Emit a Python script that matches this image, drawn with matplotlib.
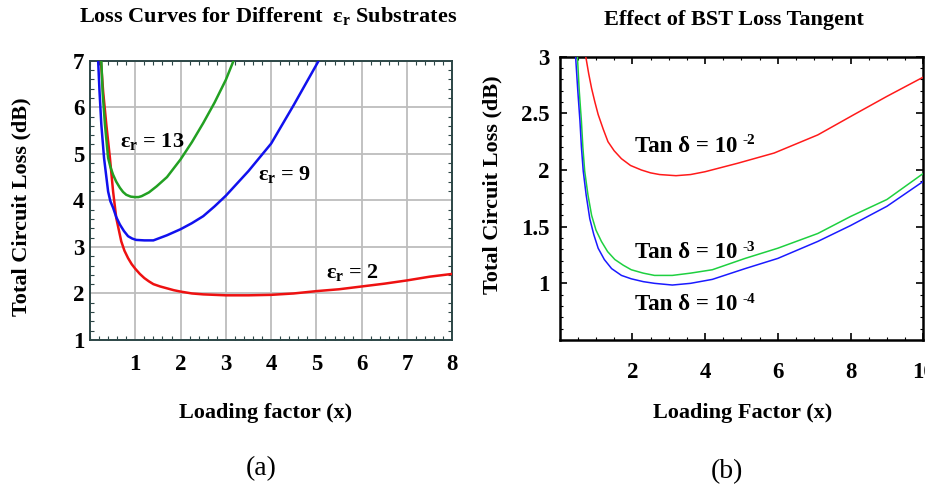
import matplotlib
matplotlib.use("Agg")
import matplotlib.pyplot as plt
from matplotlib.ticker import MultipleLocator

# ---------------- data: panel (a) ----------------
x_er2 = [0.24, 0.29, 0.36, 0.44, 0.51, 0.58, 0.69, 0.76, 0.84, 0.92, 1.0, 1.1, 1.2, 1.3,
         1.4, 1.55, 1.7, 1.85, 2.0, 2.25, 2.5, 3.0, 3.5, 4.0, 4.5, 5.0, 5.5, 6.0, 6.5,
         7.0, 7.5, 8.0]
y_er2 = [7.0, 6.34, 5.63, 4.91, 4.19, 3.62, 3.12, 2.92, 2.76, 2.63, 2.53, 2.42, 2.33, 2.26,
         2.2, 2.15, 2.11, 2.07, 2.04, 2.0, 1.98, 1.96, 1.96, 1.97, 2.0, 2.05, 2.09, 2.15,
         2.21, 2.28, 2.36, 2.42]
x_er9 = [0.18, 0.21, 0.25, 0.31, 0.40, 0.45, 0.51, 0.58, 0.66, 0.75, 0.84, 0.93, 1.02,
         1.2, 1.4, 1.7, 2.0, 2.25, 2.5, 2.75, 3.0, 3.5, 4.0, 4.5, 5.05]
y_er9 = [7.0, 6.34, 5.63, 4.91, 4.19, 3.98, 3.84, 3.64, 3.48, 3.34, 3.23, 3.18, 3.15,
         3.14, 3.14, 3.25, 3.38, 3.51, 3.66, 3.87, 4.1, 4.63, 5.22, 6.05, 7.0]
x_er13 = [0.25, 0.28, 0.33, 0.40, 0.45, 0.51, 0.58, 0.66, 0.73, 0.80, 0.90, 0.99, 1.07,
          1.14, 1.3, 1.47, 1.7, 2.0, 2.25, 2.5, 2.75, 3.0, 3.17]
y_er13 = [7.0, 6.3, 5.63, 4.91, 4.72, 4.55, 4.40, 4.27, 4.18, 4.12, 4.08, 4.07, 4.07,
          4.09, 4.17, 4.30, 4.5, 4.88, 5.25, 5.66, 6.1, 6.59, 7.0]
labels_a = ["13", "9", "2"]

# ---------------- data: panel (b) ----------------
x_tan2 = [0.72, 0.80, 0.88, 0.97, 1.06, 1.2, 1.33, 1.5, 1.7, 1.95, 2.25, 2.5, 2.75, 3.2,
          3.6, 4.0, 4.9, 5.9, 7.1, 8.1, 9.0, 10.0]
y_tan2 = [3.0, 2.85, 2.72, 2.60, 2.49, 2.36, 2.25, 2.17, 2.10, 2.04, 2.0, 1.975, 1.96,
          1.95, 1.96, 1.985, 2.06, 2.15, 2.31, 2.49, 2.65, 2.82]
x_tan3 = [0.49, 0.54, 0.6, 0.64, 0.69, 0.78, 0.88, 1.0, 1.15, 1.32, 1.52, 1.75, 1.97,
          2.3, 2.61, 3.1, 3.6, 4.2, 5.1, 6.0, 7.1, 8.0, 9.0, 10.0]
y_tan3 = [3.0, 2.7, 2.43, 2.2, 1.99, 1.78, 1.60, 1.47, 1.37, 1.28, 1.21, 1.16, 1.12,
          1.09, 1.07, 1.07, 1.09, 1.12, 1.22, 1.31, 1.44, 1.59, 1.74, 1.97]
x_tan4 = [0.44, 0.5, 0.56, 0.6, 0.65, 0.73, 0.83, 0.94, 1.06, 1.23, 1.43, 1.7, 1.97,
          2.3, 2.61, 3.1, 3.6, 4.2, 5.1, 6.0, 7.1, 8.0, 9.0, 10.0]
y_tan4 = [3.0, 2.7, 2.43, 2.2, 1.99, 1.78, 1.57, 1.43, 1.31, 1.21, 1.13, 1.07, 1.04,
          1.015, 1.0, 0.985, 1.0, 1.035, 1.13, 1.22, 1.37, 1.51, 1.68, 1.9]
labels_b = ["-2", "-3", "-4"]

plt.rcParams["font.family"] = ["Liberation Serif", "DejaVu Serif"]
plt.rcParams["mathtext.fontset"] = "custom"
plt.rcParams["mathtext.rm"] = "Liberation Serif:bold"
plt.rcParams["mathtext.bf"] = "Liberation Serif:bold"
plt.rcParams["mathtext.it"] = "Liberation Serif:bold"

W, H = 925, 494
fig = plt.figure(figsize=(W / 100, H / 100), dpi=100)


def ax_rect(l, t, r, b):
    return [l / W, 1 - b / H, (r - l) / W, (b - t) / H]


def ftxt(x, y, s, **kw):
    fig.text(x / W, 1 - y / H, s, **kw)


TICKFONT = dict(family="Liberation Serif", weight="bold", size=16.5)
LABSIZE = 16

# ---------------- panel (a) ----------------
axa = fig.add_axes(ax_rect(90, 60.7, 452.3, 340))
spine_a = "#2c4646"
axa.plot(x_er2, y_er2, color="#ee1111", lw=1.8, zorder=3)
axa.plot(x_er9, y_er9, color="#1111ee", lw=1.8, zorder=3)
axa.plot(x_er13, y_er13, color="#22a022", lw=1.8, zorder=3)
axa.set_xlim(0, 8)
axa.set_ylim(1, 7)
axa.xaxis.set_minor_locator(MultipleLocator(0.2))
axa.yaxis.set_minor_locator(MultipleLocator(0.2))
axa.set_xticks(range(1, 9))
axa.set_xticklabels([str(i) for i in range(1, 9)], **TICKFONT)
axa.set_yticks(range(1, 8))
axa.set_yticklabels([str(i) for i in range(1, 8)], **TICKFONT)
axa.grid(True, which="major", color="#bdbdbd", lw=1.3, zorder=0)
axa.tick_params(which="both", direction="in", top=True, right=True, color=spine_a)
axa.tick_params(which="major", length=0, width=1)
axa.tick_params(which="minor", length=3, width=0.8)
axa.tick_params(axis="x", which="major", pad=10)
axa.tick_params(axis="y", which="major", pad=4)
for s in axa.spines.values():
    s.set_color(spine_a)
    s.set_linewidth(1.4)

ann = dict(fontsize=16, fontweight="bold", va="center", ha="left")
axa.text(0.66, 5.27, r"$\mathbf{ε_r}$ = " + labels_a[0], **ann)
axa.text(3.72, 4.56, r"$\mathbf{ε_r}$ = " + labels_a[1], **ann)
axa.text(5.22, 2.46, r"$\mathbf{ε_r}$ = " + labels_a[2], **ann)

ftxt(268, 16, r"Loss Curves for Different  $\mathbf{ε_r}$ Substrates",
     fontsize=LABSIZE, fontweight="bold", ha="center", va="center")
ftxt(21, 207, "Total Circuit Loss (dB)", fontsize=LABSIZE, fontweight="bold",
     rotation=90, ha="center", va="center")
ftxt(266, 413, "Loading factor (x)", fontsize=LABSIZE, fontweight="bold",
     ha="center", va="center")
ftxt(261, 469, "(a)", fontsize=20, ha="center", va="center",
     family="Liberation Serif")

# ---------------- panel (b) ----------------
axb = fig.add_axes(ax_rect(559.6, 56.7, 923.3, 340))
axb.plot(x_tan2, y_tan2, color="#ff1a1a", lw=1.1, zorder=3)
axb.plot(x_tan3, y_tan3, color="#1ed040", lw=1.1, zorder=3)
axb.plot(x_tan4, y_tan4, color="#1a1aff", lw=1.1, zorder=3)
axb.set_xlim(0, 9.95)
axb.set_ylim(0.5, 3.0)
axb.set_xticks([2, 4, 6, 8, 10])
axb.set_xticklabels(["2", "4", "6", "8", "10"], **TICKFONT)
axb.set_yticks([1, 1.5, 2, 2.5, 3])
axb.set_yticklabels(["1", "1.5", "2", "2.5", "3"], **TICKFONT)
axb.xaxis.set_minor_locator(MultipleLocator(0.5))
axb.yaxis.set_minor_locator(MultipleLocator(0.1))
axb.tick_params(which="both", direction="in", top=True, right=True, color="black")
axb.tick_params(which="major", length=5, width=1.2)
axb.tick_params(which="minor", length=2.5, width=0.8)
axb.tick_params(axis="x", which="major", pad=16)
axb.tick_params(axis="y", which="major", pad=7)
for s in axb.spines.values():
    s.set_color("black")
    s.set_linewidth(1.8)

tan_pos = [(2.07, 2.21), (2.07, 1.27), (2.07, 0.81)]
for (tx, ty), sup in zip(tan_pos, labels_b):
    t = axb.text(tx, ty, "Tan δ = 10", fontsize=16.5, fontweight="bold",
                 ha="left", va="center")
    axb.annotate(sup, xy=(1, 1), xycoords=t, xytext=(4, 1),
                 textcoords="offset points", fontsize=11, fontweight="bold",
                 ha="left", va="top")

ftxt(734, 20, "Effect of BST Loss Tangent", fontsize=LABSIZE, fontweight="bold",
     ha="center", va="center")
ftxt(492, 185, "Total Circuit Loss (dB)", fontsize=LABSIZE, fontweight="bold",
     rotation=90, ha="center", va="center")
ftxt(743, 413, "Loading Factor (x)", fontsize=LABSIZE, fontweight="bold",
     ha="center", va="center")
ftxt(727, 472, "(b)", fontsize=20, ha="center", va="center",
     family="Liberation Serif")

fig.savefig("out.png", dpi=100)
